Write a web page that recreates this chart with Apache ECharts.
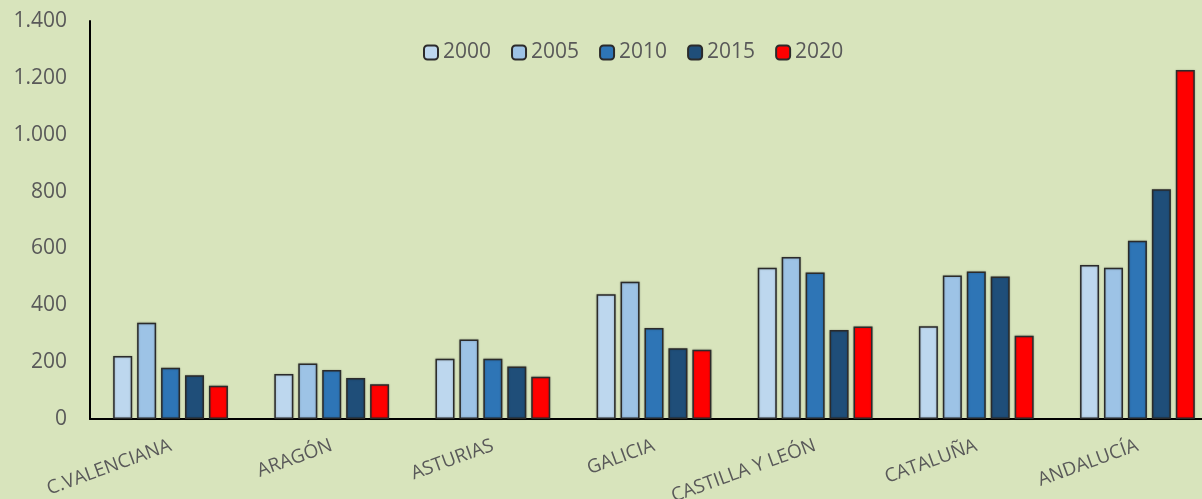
<!DOCTYPE html>
<html lang="es">
<head>
    <meta charset="utf-8">
    <title>Comunidades autónomas 2000-2020</title>
    <script src="https://cdn.jsdelivr.net/npm/echarts@6/dist/echarts.min.js"></script>
    <style>
        html, body { margin: 0; padding: 0; background: #D8E4BC; }
        #chart { width: 1202px; height: 499px; }
    </style>
</head>
<body>
    <div id="chart"></div>
    <script>
        const regiones = ['C.VALENCIANA', 'ARAGÓN', 'ASTURIAS', 'GALICIA', 'CASTILLA Y LEÓN', 'CATALUÑA', 'ANDALUCÍA'];
        const anios = ['2000', '2005', '2010', '2015', '2020'];
        const colores = ['#BDD7EE', '#9DC3E6', '#2E75B6', '#1F4E79', '#FF0000'];

        const v2000 = [222, 158, 212, 439, 532, 326, 542];
        const v2005 = [339, 195, 280, 483, 570, 505, 532];
        const v2010 = [180, 172, 212, 320, 515, 519, 627];
        const v2015 = [154, 144, 185, 249, 313, 501, 808];
        const v2020 = [117, 122, 149, 244, 325, 293, 1228];
        const valores = [v2000, v2005, v2010, v2015, v2020];

        const chart = echarts.init(document.getElementById('chart'));
        const gris = '#595959';
        const fuente = 'Open Sans';

        const series = anios.map(function (a, i) {
            return {
                name: a,
                type: 'bar',
                data: valores[i],
                barWidth: 19,
                barGap: '26%',
                itemStyle: {
                    color: colores[i],
                    borderColor: '#2b2b2b',
                    borderWidth: 1.5,
                    shadowColor: 'rgba(0,0,0,0.25)',
                    shadowBlur: 2
                }
            };
        });

        chart.setOption({
            backgroundColor: '#D8E4BC',
            animation: false,
            legend: {
                left: 418,
                top: 37,
                itemWidth: 14,
                itemHeight: 14,
                itemGap: 20,
                textStyle: { color: gris, fontSize: 21, fontFamily: fuente },
                data: anios
            },
            grid: {
                left: 90, top: 21, width: 1128, height: 398,
                containLabel: false,
                outerBoundsMode: 'none'
            },
            xAxis: {
                type: 'category',
                data: regiones,
                axisLine: { lineStyle: { color: '#000', width: 2 } },
                axisTick: { show: false },
                axisLabel: {
                    rotate: 20,
                    margin: 26,
                    color: gris,
                    fontSize: 19,
                    fontFamily: fuente
                }
            },
            yAxis: {
                type: 'value',
                min: 0,
                max: 1400,
                interval: 200,
                axisLine: { show: true, lineStyle: { color: '#000', width: 2 } },
                axisTick: { show: false },
                splitLine: { show: false },
                axisLabel: {
                    margin: 23,
                    color: gris,
                    fontSize: 21,
                    fontFamily: fuente,
                    formatter: function (v) {
                        return String(v).replace(/\B(?=(\d{3})+(?!\d))/g, '.');
                    }
                }
            },
            series: series
        });
    </script>
</body>
</html>
